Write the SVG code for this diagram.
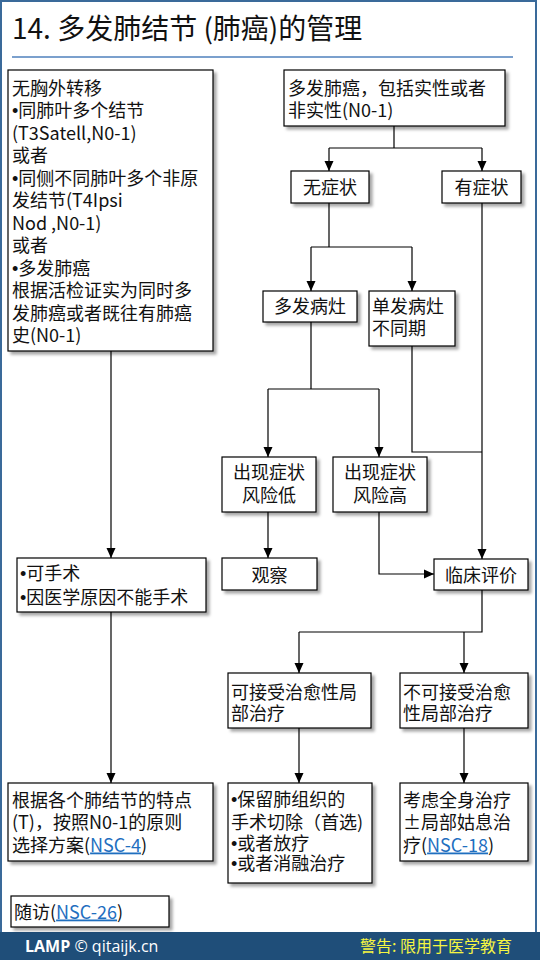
<svg xmlns="http://www.w3.org/2000/svg" width="540" height="960" viewBox="0 0 540 960">
<defs>
<filter id="sh" x="-10%" y="-10%" width="130%" height="140%">
<feDropShadow dx="3" dy="3" stdDeviation="1.8" flood-color="#000" flood-opacity="0.35"/>
</filter>
<marker id="ar" markerUnits="userSpaceOnUse" markerWidth="10" markerHeight="10" viewBox="0 0 10 10" refX="10" refY="5" orient="auto">
<path d="M0,0.5 L10,5 L0,9.5 Z" fill="#000"/>
</marker>
<style>
text{font-family:"Noto Sans CJK SC","Liberation Sans",sans-serif;font-size:18px;fill:#111}
.box{fill:#fff;stroke:#000;stroke-width:1.2;filter:url(#sh)}
.c{text-anchor:middle}
.ln{fill:none;stroke:#000;stroke-width:1.2}
.a{marker-end:url(#ar)}
.lk{fill:#1f6fbf;text-decoration:underline}
.b{font-family:"Liberation Sans",sans-serif}
</style>
</defs>
<rect x="0" y="0" width="540" height="960" fill="#fff"/>
<rect x="1" y="1" width="535" height="933" fill="none" stroke="#3a6a9a" stroke-width="2"/>
<rect x="0" y="932" width="540" height="28" fill="#1f4e79"/>
<g id="title">
<text x="12" y="39" style="font-size:28px">14. 多发肺结节 (肺癌)的管理</text>
<line x1="12" y1="57" x2="513" y2="57" stroke="#4f81bd" stroke-width="1.5"/>
</g>
<g id="connectors">
<path class="ln" d="M394,126 V148 M329,148 H482"/>
<path class="ln a" d="M329,148 V171"/>
<path class="ln a" d="M482,148 V171"/>
<path class="ln" d="M329,203 V247 M311,247 H412"/>
<path class="ln a" d="M311,247 V291"/>
<path class="ln a" d="M412,247 V291"/>
<path class="ln a" d="M482,203 V559"/>
<path class="ln" d="M311,322 V389 M268,389 H379"/>
<path class="ln a" d="M268,389 V457"/>
<path class="ln a" d="M379,389 V457"/>
<path class="ln" d="M412,346 V452 H482" stroke="#555"/>
<path class="ln a" d="M268,512 V558"/>
<path class="ln a" d="M379,512 V574 H434"/>
<path class="ln a" d="M111,351 V558"/>
<path class="ln a" d="M111,612 V783"/>
<path class="ln" d="M482,590 V632 H299"/>
<path class="ln a" d="M299,632 V673"/>
<path class="ln a" d="M464,632 V673"/>
<path class="ln a" d="M299,728 V783"/>
<path class="ln a" d="M464,728 V783"/>
</g>
<g id="n1">
<rect class="box" x="8" y="70" width="205" height="281"/>
<text x="12" y="94.5">无胸外转移</text>
<text x="12" y="117"><tspan class="b">•</tspan>同肺叶多个结节</text>
<text x="12" y="139.5">(T3Satell,N0-1)</text>
<text x="12" y="162">或者</text>
<text x="12" y="184.5"><tspan class="b">•</tspan>同侧不同肺叶多个非原</text>
<text x="12" y="207">发结节(T4Ipsi</text>
<text x="12" y="229.5">Nod ,N0-1)</text>
<text x="12" y="252">或者</text>
<text x="12" y="274.5"><tspan class="b">•</tspan>多发肺癌</text>
<text x="12" y="297">根据活检证实为同时多</text>
<text x="12" y="319.5">发肺癌或者既往有肺癌</text>
<text x="12" y="342">史(N0-1)</text>
</g>
<g id="n2">
<rect class="box" x="284" y="70" width="221" height="56"/>
<text x="288" y="94.5">多发肺癌，包括实性或者</text>
<text x="288" y="116.5">非实性(N0-1)</text>
</g>
<g id="n3">
<rect class="box" x="291" y="171" width="78" height="32"/>
<text class="c" x="330" y="193.5">无症状</text>
</g>
<g id="n4">
<rect class="box" x="442" y="171" width="79" height="32"/>
<text class="c" x="481.5" y="193.5">有症状</text>
</g>
<g id="n5">
<rect class="box" x="263" y="291" width="94" height="31"/>
<text class="c" x="310" y="313">多发病灶</text>
</g>
<g id="n6">
<rect class="box" x="369" y="291" width="86" height="55"/>
<text x="372" y="313">单发病灶</text>
<text x="372" y="335">不同期</text>
</g>
<g id="n7">
<rect class="box" x="222" y="457" width="94" height="55"/>
<text class="c" x="269" y="479">出现症状</text>
<text class="c" x="269" y="501.5">风险低</text>
</g>
<g id="n8">
<rect class="box" x="333" y="457" width="94" height="55"/>
<text class="c" x="380" y="479">出现症状</text>
<text class="c" x="380" y="501.5">风险高</text>
</g>
<g id="n9">
<rect class="box" x="222" y="558" width="95" height="32"/>
<text class="c" x="269.5" y="581.5">观察</text>
</g>
<g id="n10">
<rect class="box" x="434" y="559" width="94" height="31"/>
<text class="c" x="481" y="581.5">临床评价</text>
</g>
<g id="n11">
<rect class="box" x="17" y="558" width="189" height="54"/>
<text x="20" y="579.5"><tspan class="b">•</tspan>可手术</text>
<text x="20" y="603.5"><tspan class="b">•</tspan>因医学原因不能手术</text>
</g>
<g id="n12">
<rect class="box" x="228" y="673" width="143" height="55"/>
<text x="231" y="698.5">可接受治愈性局</text>
<text x="231" y="719.5">部治疗</text>
</g>
<g id="n13">
<rect class="box" x="400" y="673" width="128" height="55"/>
<text x="403" y="698.5">不可接受治愈</text>
<text x="403" y="719.5">性局部治疗</text>
</g>
<g id="n14">
<rect class="box" x="8" y="783" width="205" height="78"/>
<text x="12" y="806.5">根据各个肺结节的特点</text>
<text x="12" y="828.5">(T)，按照N0-1的原则</text>
<text x="12" y="851.5">选择方案(<tspan class="lk">NSC-4</tspan>)</text>
</g>
<g id="n15">
<rect class="box" x="228" y="783" width="144" height="100"/>
<text x="231" y="806"><tspan class="b">•</tspan>保留肺组织的</text>
<text x="231" y="829">手术切除（首选)</text>
<text x="231" y="850"><tspan class="b">•</tspan>或者放疗</text>
<text x="231" y="870"><tspan class="b">•</tspan>或者消融治疗</text>
</g>
<g id="n16">
<rect class="box" x="400" y="783" width="128" height="78"/>
<text x="403" y="806.5">考虑全身治疗</text>
<text x="403" y="829">±局部姑息治</text>
<text x="403" y="851.5">疗(<tspan class="lk">NSC-18</tspan>)</text>
</g>
<g id="n17">
<rect class="box" x="11" y="896" width="158" height="31"/>
<text x="14" y="918.5">随访(<tspan class="lk">NSC-26</tspan>)</text>
</g>
<g id="footer">
<text x="25" y="952" style="font-size:16px;fill:#fff;font-family:'Open Sans','Liberation Sans',sans-serif"><tspan font-weight="bold">LAMP</tspan> © qitaijk.cn</text>
<text x="360" y="952" style="font-size:16px;fill:#f5f542">警告: 限用于医学教育</text>
</g>
</svg>
